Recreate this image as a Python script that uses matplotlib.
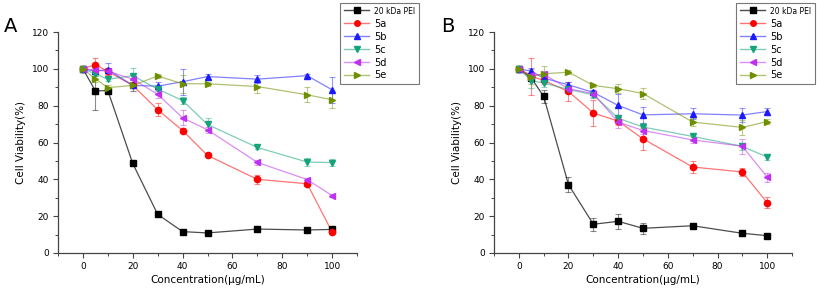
import numpy as np
import matplotlib
matplotlib.use('Agg')
import matplotlib.pyplot as plt
from matplotlib.ticker import MultipleLocator

# concentrations (ug/mL)
conc = [0, 5, 10, 20, 30, 40, 50, 70, 90, 100]

names = ['20 kDa PEI', '5a', '5b', '5c', '5d', '5e']
colors = ['black', '#ff0000', '#1a1aff', '#14a37a', '#c030f0', '#6e8f00']
markers = ['s', 'o', '^', 'v', '<', '>']

# panel A
a_pei = [100, 88, 88.2, 48.6, 21, 11.6, 10.9, 13, 12.5, 12.8]
a_5a = [100, 102.3, 98.6, 91, 77.8, 66.5, 53, 40, 37.6, 11.4]
a_5b = [100, 98.8, 99.6, 91, 90.6, 93, 95.8, 94.4, 96.3, 88.6]
a_5c = [100, 97.3, 94.3, 96.3, 89, 82.8, 69.8, 57.3, 49.4, 49.1]
a_5d = [100, 99.3, 98.7, 94.4, 86.2, 73.4, 66.9, 49.2, 39.9, 31.2]
a_5e = [100, 94.6, 89.8, 91, 96.1, 91.9, 91.9, 90.4, 85.9, 83.2]

a_pei_err = [0, 10.5, 1, 1, 1, 1, 1, 0.8, 0.8, 0.8]
a_5a_err = [0, 3.5, 2, 1, 3.5, 1.5, 1, 2.5, 1, 1]
a_5b_err = [0, 1.5, 3.5, 3, 2, 7, 1.5, 2, 1, 7]
a_5c_err = [0, 1, 1, 4, 2, 2, 3.5, 1, 2, 2]
a_5d_err = [0, 1, 1.5, 2, 2, 4, 1.5, 1.5, 1, 1]
a_5e_err = [0, 1.5, 1.5, 3, 1, 5, 1, 3.5, 4, 4.5]

# panel B
b_pei = [100, 95.1, 85, 37.1, 15.6, 17.2, 13.4, 14.8, 10.7, 9.4]
b_5a = [100, 96, 93.7, 87.7, 76, 71.6, 62, 46.7, 44, 27.3]
b_5b = [100, 98.7, 95, 91.3, 87.2, 80.1, 75, 75.6, 74.9, 76.8]
b_5c = [100, 93.6, 92.3, 88.8, 85.9, 73.2, 68.4, 63.3, 57.9, 52.1]
b_5d = [100, 96.4, 97, 89.2, 86.6, 71.1, 66.5, 61.4, 58, 41.2]
b_5e = [100, 95.8, 97.3, 98.2, 91, 89.2, 86.6, 71.1, 68.2, 71.4]

b_pei_err = [0, 1, 3.5, 4, 3.5, 4, 3, 1, 1.5, 0.8]
b_5a_err = [0, 10, 2, 5, 7, 2, 6, 3.5, 2, 3]
b_5b_err = [0, 2, 2, 1.5, 1.5, 6, 4.5, 3, 4, 2]
b_5c_err = [0, 4, 2, 2, 2, 2, 2, 2, 2, 1.5]
b_5d_err = [0, 2, 2, 2, 2, 3, 2, 1.5, 4, 2.5]
b_5e_err = [0, 4, 4, 1, 1, 2.5, 3, 2, 4, 1.5]

panel_a = [a_pei, a_5a, a_5b, a_5c, a_5d, a_5e]
panel_a_err = [a_pei_err, a_5a_err, a_5b_err, a_5c_err, a_5d_err, a_5e_err]
panel_b = [b_pei, b_5a, b_5b, b_5c, b_5d, b_5e]
panel_b_err = [b_pei_err, b_5a_err, b_5b_err, b_5c_err, b_5d_err, b_5e_err]

W, H = 817, 288
fig = plt.figure(figsize=(W / 100, H / 100), dpi=100)


def draw(ax, data, errs, letter, leg_x):
    handles = []
    for i in range(len(names)):
        lc = colors[i]
        la = 0.55 if i > 0 else 0.7
        ax.errorbar(conc, data[i], yerr=errs[i], fmt='none', ecolor=lc,
                    alpha=0.45, elinewidth=0.8, capsize=2, capthick=0.8, zorder=2)
        ax.plot(conc, data[i], color=lc, alpha=la, lw=0.9, zorder=3)
        ax.plot(conc, data[i], ls='none', marker=markers[i], color=lc,
                markersize=4.5, zorder=4)
        hl, = plt.plot([], [], color=lc, alpha=la, lw=1.0)
        hm, = plt.plot([], [], ls='none', color=lc, marker=markers[i],
                       markersize=4)
        handles.append((hl, hm))
    ax.set_xlim(-10, 110)
    ax.set_ylim(0, 120)
    ax.xaxis.set_major_locator(MultipleLocator(20))
    ax.xaxis.set_minor_locator(MultipleLocator(10))
    ax.yaxis.set_major_locator(MultipleLocator(20))
    ax.yaxis.set_minor_locator(MultipleLocator(10))
    for s in ['top', 'right']:
        ax.spines[s].set_visible(False)
    for s in ['left', 'bottom']:
        ax.spines[s].set_color('#444444')
        ax.spines[s].set_linewidth(0.9)
    ax.tick_params(which='major', direction='out', length=3.5, width=0.8,
                   labelsize=6.5, colors='#444444', labelcolor='black', pad=3)
    ax.tick_params(which='minor', direction='out', length=2, width=0.7,
                   colors='#444444')
    ax.set_xlabel('Concentration(μg/mL)', fontsize=7.5, labelpad=3)
    ax.set_ylabel('Cell Viability(%)', fontsize=7.5, labelpad=4)
    fig.text(leg_x[0] / W, 1 - 27 / H, letter, fontsize=14, va='center',
             ha='left')
    leg = fig.legend(handles, names, loc='upper left',
                     bbox_to_anchor=(leg_x[1] / W, 1 - 3 / H),
                     fontsize=7, frameon=True, fancybox=False,
                     edgecolor='#555555', handlelength=2.6, handletextpad=0.5,
                     labelspacing=0.3, borderpad=0.4, borderaxespad=0)
    leg.get_frame().set_linewidth(0.8)
    leg.get_texts()[0].set_fontsize(5.5)


ax_a = fig.add_axes([58 / W, 35 / H, 299 / W, 221 / H])
draw(ax_a, panel_a, panel_a_err, 'A', (4, 340))
ax_b = fig.add_axes([494 / W, 35 / H, 298 / W, 221 / H])
draw(ax_b, panel_b, panel_b_err, 'B', (441, 736))

fig.savefig('out.png', dpi=100)
